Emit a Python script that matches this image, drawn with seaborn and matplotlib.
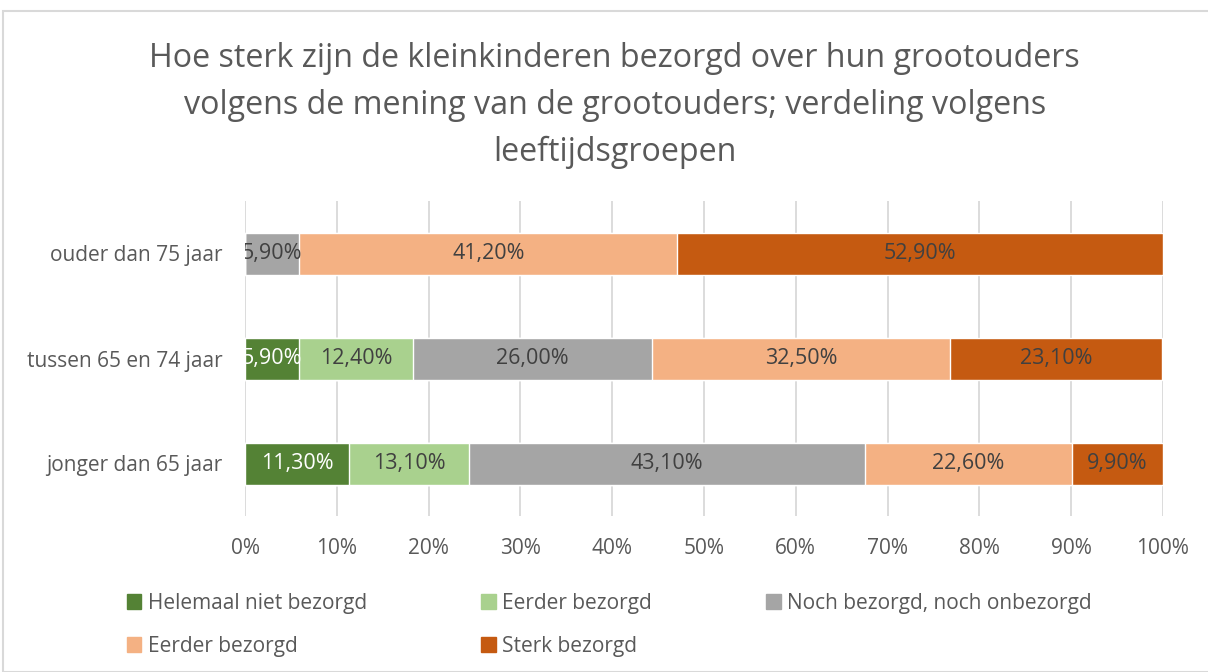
import matplotlib
matplotlib.use("Agg")
import matplotlib.pyplot as plt
import matplotlib.patches as mpatches
import numpy as np
import pandas as pd
import seaborn as sns

# data
groups = ["ouder dan 75 jaar", "tussen 65 en 74 jaar", "jonger dan 65 jaar"]
series = ["Helemaal niet bezorgd", "Eerder bezorgd", "Noch bezorgd, noch onbezorgd",
          "Eerder bezorgd ", "Sterk bezorgd"]
helemaal_niet = [0.0, 5.9, 11.3]
eerder_niet = [0.0, 12.4, 13.1]
neutraal = [5.9, 26.0, 43.1]
eerder_wel = [41.2, 32.5, 22.6]
sterk = [52.9, 23.1, 9.9]
colors = ["#548235", "#A9D18E", "#A5A5A5", "#F4B183", "#C55A11"]
label_colors = ["white", "#404040", "#404040", "#404040", "#404040"]
xticks = np.arange(0, 101, 10)

sns.set_theme(style="white")
plt.rcParams["font.family"] = ["Open Sans", "DejaVu Sans"]

values = np.array([helemaal_niet, eerder_niet, neutraal, eerder_wel, sterk])
cum = values.cumsum(axis=0)

fig = plt.figure(figsize=(12.08, 6.72), dpi=100)
ax = fig.add_axes([245 / 1208, 1 - 516 / 672, 918 / 1208, 315 / 672])

# stacked bars: draw cumulative totals from the back to the front
for i in range(len(series) - 1, -1, -1):
    df = pd.DataFrame({"groep": groups, "waarde": cum[i]})
    sns.barplot(data=df, x="waarde", y="groep", order=groups, color=colors[i],
                saturation=1, width=0.4, ax=ax, orient="h")

for i in range(len(series)):
    for j, g in enumerate(groups):
        v = values[i, j]
        if v <= 0:
            continue
        xc = cum[i, j] - v / 2
        ax.text(xc, j, f"{v:.2f}%".replace(".", ","), ha="center", va="center",
                fontsize=15.5, color=label_colors[i], clip_on=True)

ax.set_xlim(0, 100)
ax.set_ylim(2.5, -0.5)
ax.set_xticks(xticks)
ax.set_xticklabels([f"{t}%" for t in xticks])
ax.xaxis.grid(True, color="#D9D9D9", linewidth=1.3)
ax.set_axisbelow(True)
ax.set_xlabel("")
ax.set_ylabel("")
for s in ax.spines.values():
    s.set_visible(False)
ax.tick_params(axis="x", labelsize=15, colors="#595959", length=0, pad=16)
ax.tick_params(axis="y", labelsize=15, colors="#595959", length=0, pad=16)

fig.text(0.509, 1 - 42 / 672,
         "Hoe sterk zijn de kleinkinderen bezorgd over hun grootouders\n"
         "volgens de mening van de grootouders; verdeling volgens\n"
         "leeftijdsgroepen",
         ha="center", va="top", fontsize=23.2, color="#595959", linespacing=1.55)

# Excel fills the legend row by row, matplotlib column by column
order = [0, 3, 1, 4, 2]
handles = [mpatches.Patch(color=colors[k], label=series[k].strip()) for k in order]
fig.legend(handles=handles, ncol=3, loc="upper left",
           bbox_to_anchor=(108 / 1208, 1 - 574 / 672), frameon=False,
           fontsize=15, labelcolor="#595959", handlelength=0.7, handleheight=0.7,
           handletextpad=0.3, columnspacing=5.5, labelspacing=1.05)

# chart border
fig.patches.append(mpatches.Rectangle((3 / 1208, 0), 1.2, 1 - 11 / 672,
                                      transform=fig.transFigure, fill=False,
                                      edgecolor="#D9D9D9", linewidth=1.5))

fig.savefig("out.png", dpi=100)
